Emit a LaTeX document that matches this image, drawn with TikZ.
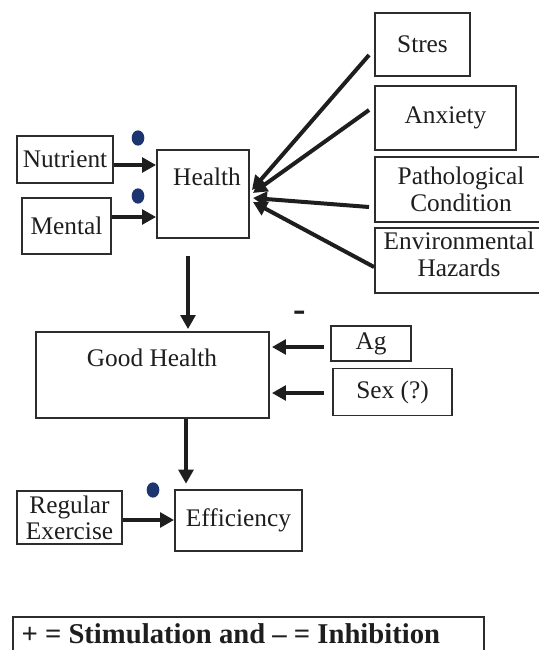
\documentclass[tikz,border=0pt]{standalone}
\usepackage{fontspec}
\setmainfont{Liberation Serif}
\usetikzlibrary{arrows.meta,calc,shapes.geometric}
\definecolor{dotblue}{RGB}{28,52,112}
\definecolor{boxgray}{RGB}{45,45,45}
\definecolor{inkblack}{RGB}{30,30,30}

\tikzset{every picture/.style={line width=0.75pt}}
\tikzset{
  box/.style={draw=boxgray,line width=1.4pt,inner sep=0pt,align=center,
    text=inkblack,font=\fontsize{19}{20.5}\selectfont},
  boxsize/.style 2 args={minimum width=#1*0.75pt,minimum height=#2*0.75pt},
  txt/.style={inner sep=0pt,text=inkblack,font=\fontsize{19}{20.5}\selectfont},
  arr/.style={draw=inkblack,line width=3pt,-{Triangle[length=10.5pt,width=11pt]}},
  plusdot/.style={ellipse,fill=dotblue,inner sep=0pt,minimum width=9.5pt,minimum height=11.5pt}
}

\begin{document}
\begin{tikzpicture}[x=0.75pt,y=0.75pt,yscale=-1,xscale=1]
%set diagram left start at 0, and has height of 650
\useasboundingbox (0,0) rectangle (539,650);

%Shape: Rectangle [nutrient]
\node (nutrient) [box,boxsize={96}{47}] at (65,159.5) {Nutrient};
%Shape: Rectangle [mental]
\node (mental) [box,boxsize={89}{56}] at (66.5,226) {Mental};
%Shape: Rectangle [health]
\node (health) [box,boxsize={92}{88}] at (203,194) {};
% Text Node
\node (healthtext) [txt] at (207,177) {Health};

%Shape: Rectangle [stres]
\node (stres) [box,boxsize={95}{63}] at (422.5,44.5) {Stres};
%Shape: Rectangle [anxiety]
\node (anxiety) [box,boxsize={141}{64}] at (445.5,118) {Anxiety};
%Shape: Rectangle [patho]
\node (patho) [box,boxsize={172}{65}] at (461,189.5) {Pathological\\Condition};
%Shape: Rectangle [enviro]
\node (enviro) [box,boxsize={172}{65}] at (461,260.5) {};
% Text Node
\node (envirotext) [txt,align=center] at (459,254) {Environmental\\Hazards};

%Shape: Rectangle [goodhealth]
\node (goodhealth) [box,boxsize={233}{86}] at (152.5,375) {};
% Text Node
\node (goodhealthtext) [txt] at (152,358) {Good Health};
%Shape: Rectangle [ag]
\node (ag) [box,boxsize={80}{35}] at (371,343.5) {Ag};
%Shape: Rectangle [sex]
\node (sex) [box,boxsize={119}{47}] at (392.5,392) {Sex (?)};

%Shape: Rectangle [regex]
\node (regex) [box,boxsize={105}{53}] at (69.5,517.5) {Regular\\[-1pt]Exercise};
%Shape: Rectangle [efficiency]
\node (efficiency) [box,boxsize={127}{61}] at (238.5,520.5) {Efficiency};

%Shape: Ellipse [dots]
\node (dotnutrient) [plusdot] at (138,138) {};
\node (dotmental) [plusdot] at (138,196) {};
\node (dotexercise) [plusdot] at (153,490) {};
% Text Node
\node (minus) [txt,font=\fontsize{28}{28}\selectfont\bfseries] at (300,316) {-};

%Straight Lines
\draw [arr] ($(nutrient.east)+(0,5.5)$) coordinate (n1) -- (n1 -| health.west);
\draw [arr] ($(mental.east)+(0,-9)$) coordinate (m1) -- (m1 -| health.west);
\draw [arr] ($(stres.west)+(-5,10.5)$) -- ($(health.east)+(2,-4)$);
\draw [arr] ($(anxiety.west)+(-5,-8)$) -- ($(health.east)+(3,-1)$);
\draw [arr] ($(patho.west)+(-5,17.5)$) -- ($(health.east)+(3,4)$);
\draw [arr] ($(enviro.west)+(0,6.5)$) -- ($(health.east)+(3,8)$);
\draw [arr,shorten >=1.5pt] ($(health.south)+(-15,17)$) coordinate (h1) -- (h1 |- goodhealth.north);
\draw [arr] ($(ag.west)+(-6,3.5)$) -- ($(goodhealth.east)+(2,-28)$);
\draw [arr] ($(sex.west)+(-8,1)$) -- ($(goodhealth.east)+(2,18)$);
\draw [arr,shorten >=4pt] ($(goodhealth.south)+(33.5,0)$) coordinate (g1) -- (g1 |- efficiency.north);
\draw [arr] ($(regex.east)+(0,2.5)$) coordinate (r1) -- (r1 -| efficiency.west);

%Shape: Rectangle [legend]
\node (legend) [box,anchor=north west,boxsize={471}{60}] at (12,616) {};
% Text Node
\node (legendtext) [txt,anchor=base west,font=\fontsize{21.5}{24}\selectfont\bfseries] at (21,643) {+ = Stimulation and -- = Inhibition};

\end{tikzpicture}
\end{document}
